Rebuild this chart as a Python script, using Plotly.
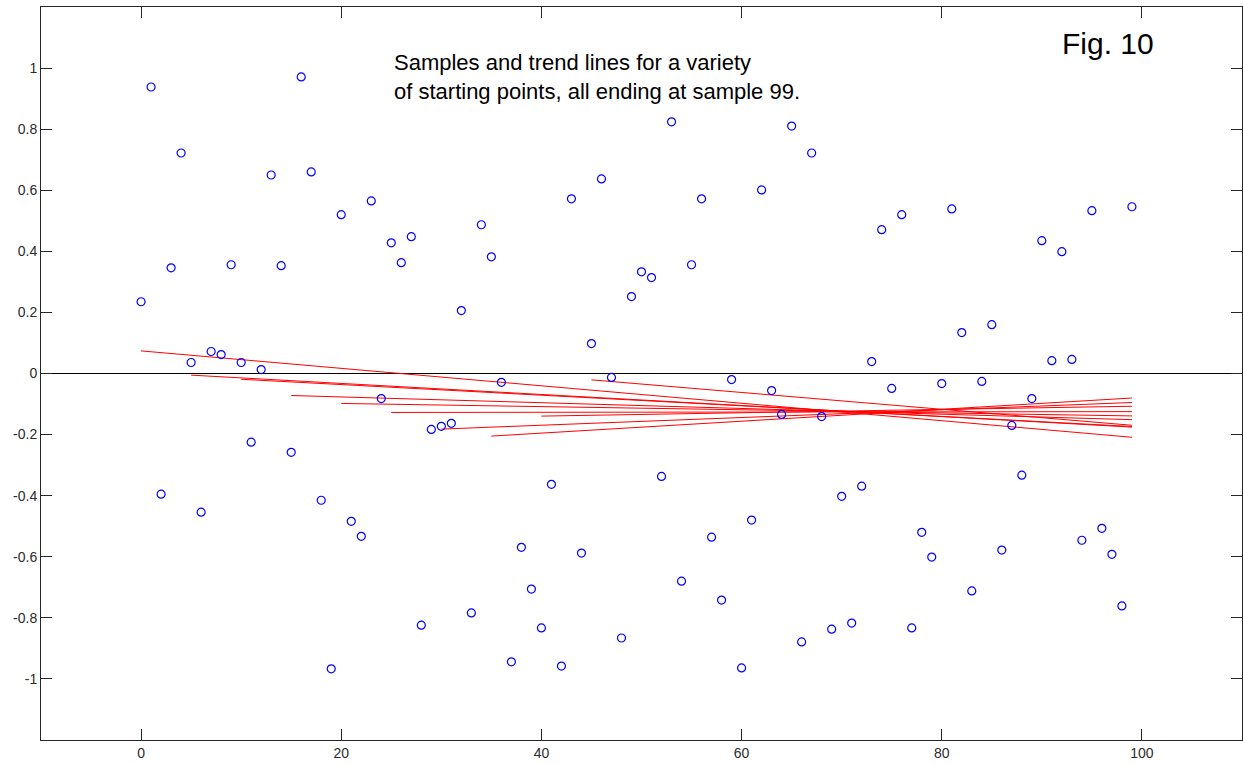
import numpy as np
import plotly.graph_objects as go

# Sample index and sampled values
sample_idx = list(range(100))
sample_vals = [
    0.235, 0.938, -0.395, 0.346, 0.722, 0.036, -0.454, 0.072, 0.062, 0.356,
    0.036, -0.225, 0.013, 0.650, 0.353, -0.258, 0.971, 0.660, -0.415, -0.967,
    0.520, -0.484, -0.533, 0.565, -0.082, 0.428, 0.363, 0.448, -0.824, -0.183,
    -0.173, -0.163, 0.206, -0.784, 0.487, 0.382, -0.029, -0.944, -0.569, -0.706,
    -0.833, -0.363, -0.958, 0.572, -0.588, 0.098, 0.637, -0.013, -0.866, 0.252,
    0.333, 0.314, -0.337, 0.824, -0.680, 0.356, 0.572, -0.536, -0.742, -0.020,
    -0.964, -0.480, 0.601, -0.056, -0.134, 0.810, -0.879, 0.722, -0.141, -0.837,
    -0.402, -0.817, -0.369, 0.039, 0.471, -0.049, 0.520, -0.833, -0.520, -0.601,
    -0.033, 0.539, 0.134, -0.712, -0.026, 0.160, -0.578, -0.170, -0.333, -0.082,
    0.435, 0.042, 0.399, 0.046, -0.546, 0.533, -0.507, -0.592, -0.761, 0.546,
]

# First sample of each trend fit; every fit runs through sample 99
trend_starts = [0, 5, 10, 15, 20, 25, 30, 35, 40, 45]
last_sample = 99

x_ticks = [0, 20, 40, 60, 80, 100]
y_ticks = [-1, -0.8, -0.6, -0.4, -0.2, 0, 0.2, 0.4, 0.6, 0.8, 1]
y_tick_text = ["-1", "-0.8", "-0.6", "-0.4", "-0.2", "0", "0.2", "0.4", "0.6", "0.8", "1"]

x = np.array(sample_idx, dtype=float)
y = np.array(sample_vals, dtype=float)

fig = go.Figure()

# Least-squares trend line for each starting point
for s in trend_starts:
    xs = x[s:last_sample + 1]
    ys = y[s:last_sample + 1]
    slope, icpt = np.polyfit(xs, ys, 1)
    fig.add_trace(go.Scatter(
        x=[xs[0], xs[-1]],
        y=[slope * xs[0] + icpt, slope * xs[-1] + icpt],
        mode="lines",
        line=dict(color="#ff0000", width=1),
        showlegend=False,
        hoverinfo="skip",
    ))

fig.add_trace(go.Scatter(
    x=sample_idx,
    y=sample_vals,
    mode="markers",
    marker=dict(symbol="circle-open", size=8, color="#0000ff",
                line=dict(color="#0000ff", width=1.2)),
    showlegend=False,
))

axis_common = dict(
    showline=True,
    mirror="ticks",
    linecolor="#262626",
    linewidth=1,
    ticks="inside",
    ticklen=11,
    tickcolor="#262626",
    tickwidth=1,
    showgrid=False,
    tickfont=dict(family="Liberation Sans, Arial, sans-serif", size=14, color="#2b2b2b"),
)

fig.update_xaxes(
    range=[-10, 110],
    tickvals=x_ticks,
    zeroline=False,
    **axis_common,
)
fig.update_yaxes(
    range=[-1.2, 1.2],
    tickvals=y_ticks,
    ticktext=y_tick_text,
    zeroline=True,
    zerolinecolor="#000000",
    zerolinewidth=1,
    **axis_common,
)

fig.add_annotation(
    x=25.1, y=1.065, xref="x", yref="y",
    text="Samples and trend lines for a variety<br>of starting points, all ending at sample 99.",
    showarrow=False, xanchor="left", yanchor="top", align="left",
    font=dict(family="Liberation Sans, Arial, sans-serif", size=22, color="#000000"),
)
fig.add_annotation(
    x=91.8, y=1.14, xref="x", yref="y",
    text="Fig. 10",
    showarrow=False, xanchor="left", yanchor="top", align="left",
    font=dict(family="Liberation Sans, Arial, sans-serif", size=30, color="#000000"),
)

fig.update_layout(
    width=1243,
    height=765,
    margin=dict(l=41, r=1, t=7, b=25),
    paper_bgcolor="#ffffff",
    plot_bgcolor="#ffffff",
)

fig.write_html("out.html")
